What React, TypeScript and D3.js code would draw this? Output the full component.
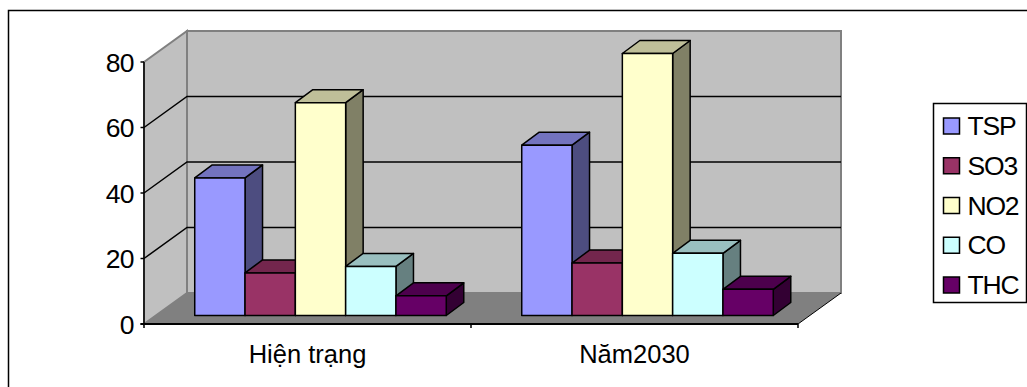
import React from "react";
import * as d3 from "d3";

const categories = ["Hiện trạng", "Năm2030"];
const seriesNames = ["TSP", "SO3", "NO2", "CO", "THC"];
const seriesColors = ["#9999ff", "#993366", "#ffffcc", "#ccffff", "#660066"];
const tsp = [42, 52];
const so3 = [13, 16];
const no2 = [65, 80];
const co = [15, 19];
const thc = [6, 8];
const seriesValues = [tsp, so3, no2, co, thc];
const yTicks = [0, 20, 40, 60, 80];

const FONT = "'Liberation Sans', Arial, sans-serif";

// Oblique projection: wall depth and bar depth on screen.
const WALL_DX = 43;
const WALL_DY = -31;
const BAR_DX = 17.5;
const BAR_DY = -13;
const BAR_BASE = 315.5;
const BAR_SHIFT = 13;

const y = d3.scaleLinear().domain([0, 80]).range([324, 62]);
const x = d3.scaleBand<string>().domain(categories).range([144, 798]);
const inner = d3
  .scaleBand<string>()
  .domain(seriesNames)
  .range([0, x.bandwidth()])
  .paddingOuter(0.75)
  .paddingInner(0);
const legendRow = d3.scaleLinear().domain([0, 4]).range([118, 277]);

const shade = (color: string, k: number) => {
  const c = d3.rgb(color);
  return d3.rgb(c.r * k, c.g * k, c.b * k).formatHex();
};

const poly = (pts: [number, number][]) => d3.line()(pts) + "Z";

function Bar({ x0, w, value, color }: { x0: number; w: number; value: number; color: string }) {
  const h = y(0) - y(value);
  const top = BAR_BASE - h;
  const x1 = x0 + w;
  return (
    <g stroke="#000" strokeWidth={1.5} strokeLinejoin="round">
      <path
        d={poly([[x1, BAR_BASE], [x1 + BAR_DX, BAR_BASE + BAR_DY], [x1 + BAR_DX, top + BAR_DY], [x1, top]])}
        fill={shade(color, 0.5)}
      />
      <path
        d={poly([[x0, top], [x1, top], [x1 + BAR_DX, top + BAR_DY], [x0 + BAR_DX, top + BAR_DY]])}
        fill={shade(color, 0.75)}
      />
      <rect x={x0} y={top} width={w} height={h} fill={color} />
    </g>
  );
}

export default function App() {
  const [left, right] = x.range();
  const base = y(0);
  const roof = y(80);
  return (
    <svg
      width={1027}
      height={387}
      viewBox="0 0 1027 387"
      style={{ position: "absolute", left: 0, top: 0, background: "#fff", display: "block" }}
      fontFamily={FONT}
      fontSize={26.5}
    >
      {/* Chart area edge: only the top and left sides fall inside the frame */}
      <path d="M8.5 387V10.5H1027" fill="none" stroke="#000" strokeWidth={1.5} />

      {/* Back wall, side wall and floor */}
      <path
        d={poly([[left + WALL_DX, roof + WALL_DY], [right + WALL_DX, roof + WALL_DY], [right + WALL_DX, base + WALL_DY], [left + WALL_DX, base + WALL_DY]])}
        fill="#c0c0c0"
        stroke="#808080"
        strokeWidth={2}
      />
      <path
        d={poly([[left, roof], [left + WALL_DX, roof + WALL_DY], [left + WALL_DX, base + WALL_DY], [left, base]])}
        fill="#c0c0c0"
        stroke="#808080"
        strokeWidth={2}
      />
      <path
        d={poly([[left, base], [left + WALL_DX, base + WALL_DY], [right + WALL_DX, base + WALL_DY], [right, base]])}
        fill="#808080"
      />
      <path d={`M${right} ${base}L${right + WALL_DX} ${base + WALL_DY}`} stroke="#000" strokeWidth={1} />

      {/* Gridlines run across the side wall and along the back wall */}
      {yTicks
        .filter((t) => t > 0 && t < 80)
        .map((t) => (
          <path
            key={t}
            d={`M${left} ${y(t)}L${left + WALL_DX} ${y(t) + WALL_DY}H${right + WALL_DX}`}
            fill="none"
            stroke="#000"
            strokeWidth={1.5}
          />
        ))}

      {/* Value axis */}
      <path d={`M${left} ${roof}V${base}`} stroke="#000" strokeWidth={1.5} />
      {yTicks.map((t) => (
        <g key={t}>
          <path d={`M${left - 3.5} ${y(t)}H${left}`} stroke="#000" strokeWidth={1.5} />
          <text x={133.5} y={y(t) + 9.5} textAnchor="end" fill="#000" letterSpacing={-0.9}>
            {t}
          </text>
        </g>
      ))}

      {/* Category axis */}
      <path d={`M${left - 3.5} ${base}H${right}`} stroke="#000" strokeWidth={2} />
      {[left, x(categories[1])!, right].map((p) => (
        <path key={p} d={`M${p} ${base}v4`} stroke="#000" strokeWidth={1.5} />
      ))}
      {categories.map((c) => (
        <text key={c} x={x(c)! + x.bandwidth() / 2} y={362.5} textAnchor="middle" fill="#000" fontSize={25.5}>
          {c}
        </text>
      ))}

      {/* Bars, painted left to right so later ones cover the side of earlier ones */}
      {categories.map((c, ci) =>
        seriesNames.map((s, si) => (
          <Bar
            key={c + s}
            x0={x(c)! + inner(s)! + BAR_SHIFT}
            w={inner.bandwidth()}
            value={seriesValues[si][ci]}
            color={seriesColors[si]}
          />
        ))
      )}

      {/* Legend */}
      <rect x={933.5} y={103.5} width={93} height={199} fill="#fff" stroke="#000" strokeWidth={1.5} />
      {seriesNames.map((s, i) => (
        <g key={s}>
          <rect x={943.5} y={legendRow(i)} width={16} height={16} fill={seriesColors[i]} stroke="#000" strokeWidth={1.5} />
          <text x={967.5} y={legendRow(i) + 17} fill="#000" letterSpacing={-1.2}>
            {s}
          </text>
        </g>
      ))}
    </svg>
  );
}
